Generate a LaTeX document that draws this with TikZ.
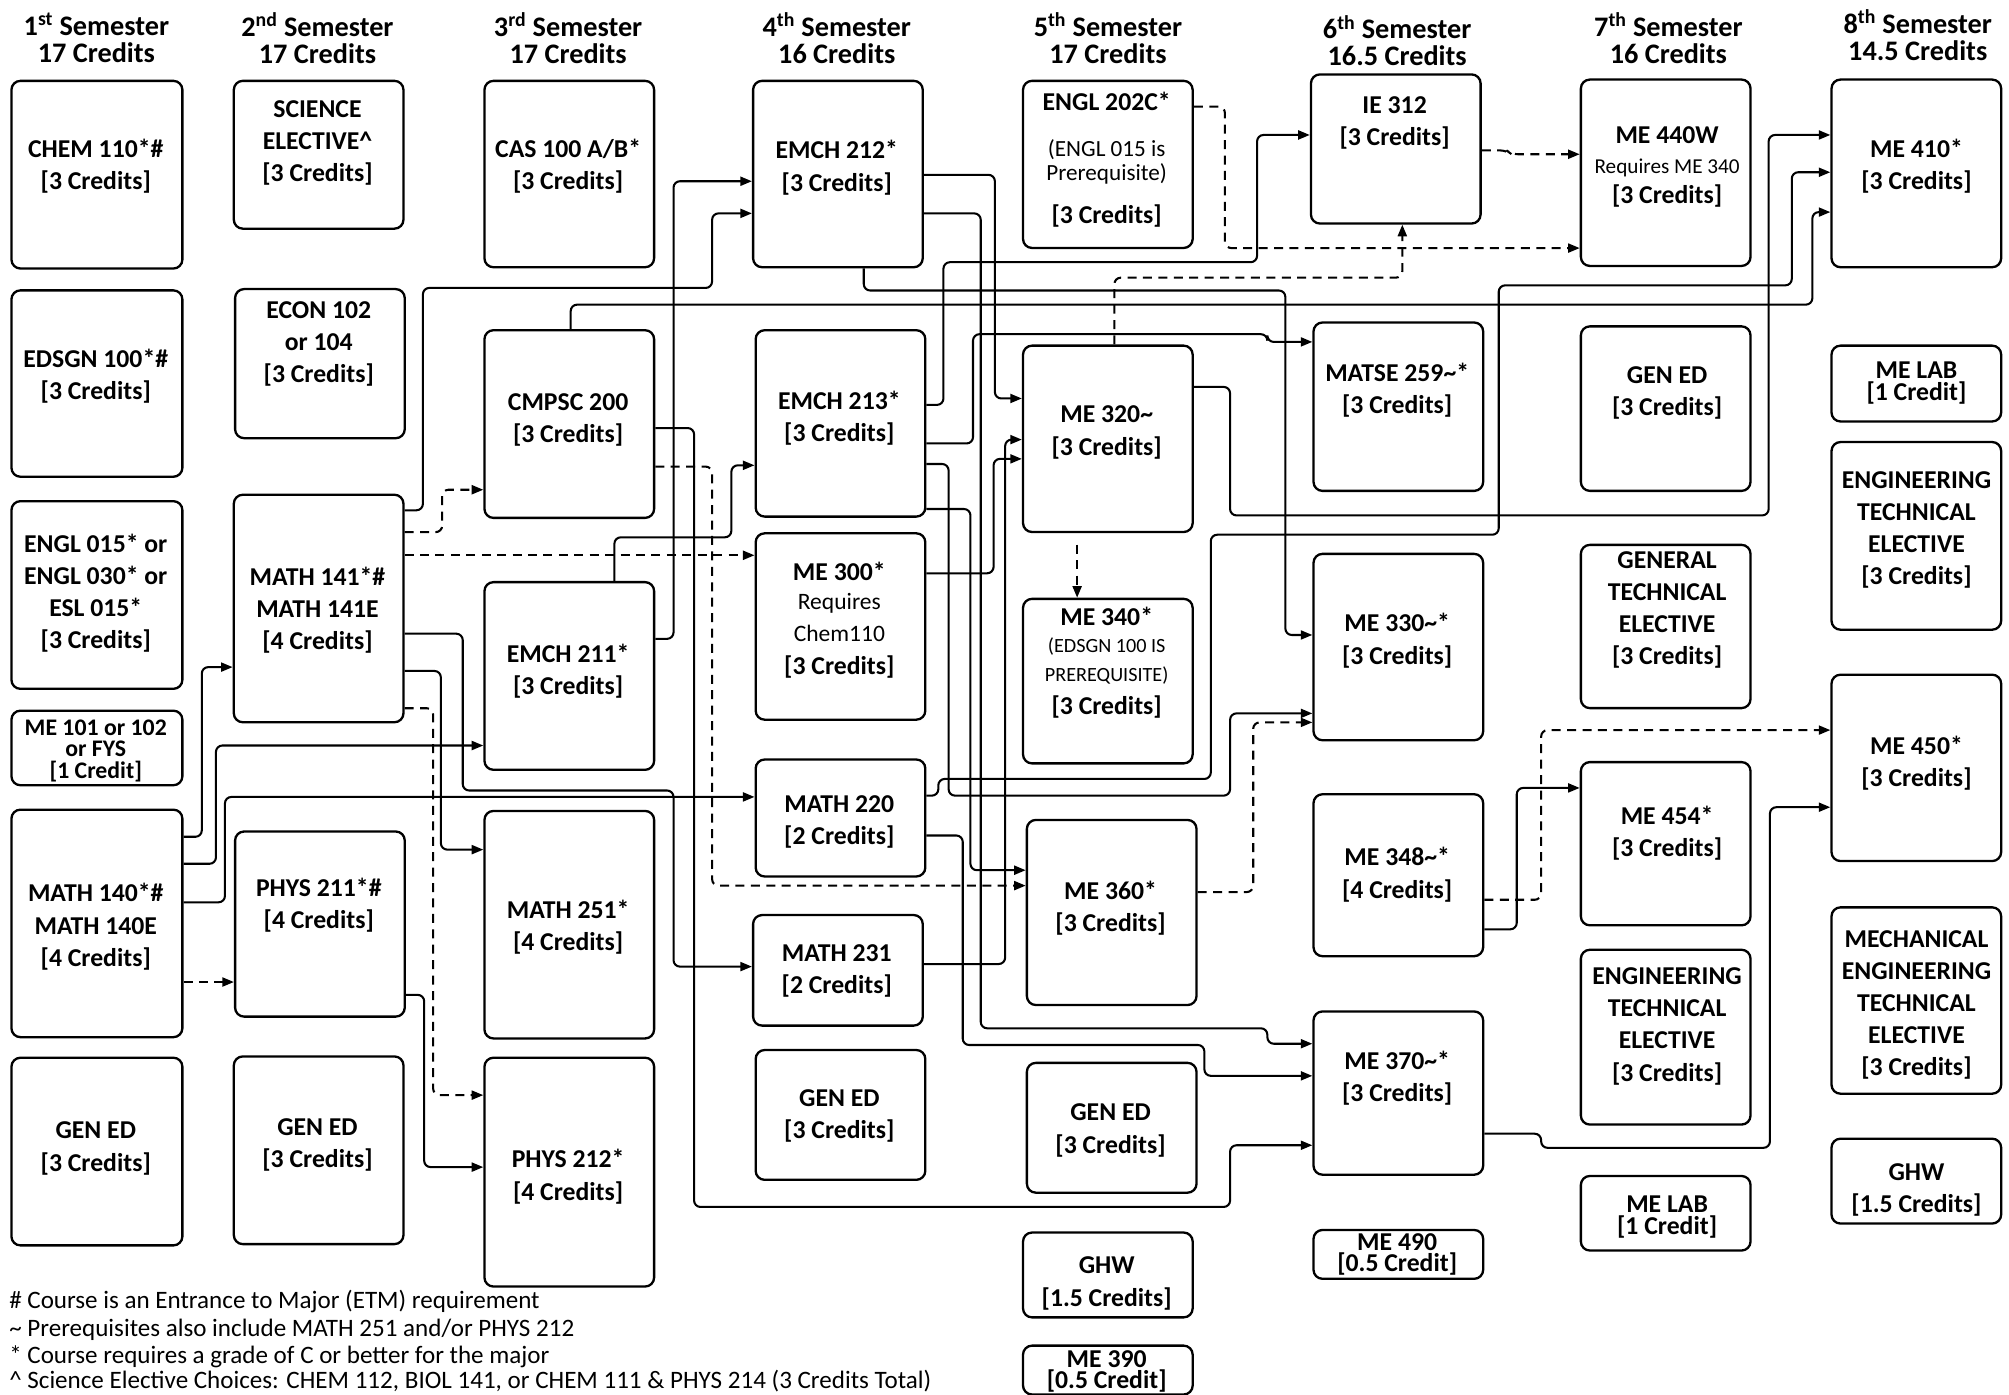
\documentclass[tikz,border=0pt]{standalone}
\usepackage{fontspec}
\setmainfont{Carlito}
\usetikzlibrary{arrows.meta}
\newcommand\mybox[5]{\node[box, anchor=north west, minimum width={(#4-#2)*1pt}, minimum height={(#5-#3)*1pt}] (#1) at (#2,#3) {};}
\tikzset{
  box/.style={draw, line width=1.8pt, rounded corners=7pt, inner sep=0pt},
  txt/.style={align=center, font=\fontsize{20}{25}\selectfont\bfseries, inner sep=0pt},
  tight/.style={align=center, font=\fontsize{20}{17}\selectfont\bfseries, inner sep=0pt},
  small/.style={align=center, font=\fontsize{18.5}{16.7}\selectfont\bfseries, inner sep=0pt},
  head/.style={align=center, font=\fontsize{22}{21}\selectfont\bfseries, inner sep=0pt},
  ln/.style={anchor=base, inner sep=0pt},
  legend/.style={anchor=base west, inner sep=0pt, font=\fontsize{19.5}{22}\selectfont},
  conn/.style={line width=1.6pt, rounded corners=5pt, -{Triangle[length=9pt,width=7pt]}},
  dconn/.style={conn, dash pattern=on 7pt off 5pt},
}
\begin{document}
\begin{tikzpicture}[x=1pt,y=-1pt]
\fill[white] (0,0) rectangle (1563,1085);
\useasboundingbox (0,0) rectangle (1563,1085);
% headings
\node[head] (h1) at (75,29.5) {1\textsuperscript{st} Semester\\17 Credits};
\node[head] (h2) at (247,29.5) {2\textsuperscript{nd} Semester\\17 Credits};
\node[head] (h3) at (442,29.5) {3\textsuperscript{rd} Semester\\17 Credits};
\node[head] (h4) at (651,29.5) {4\textsuperscript{th} Semester\\16 Credits};
\node[head] (h5) at (862,29.5) {5\textsuperscript{th} Semester\\17 Credits};
\node[head] (h6) at (1087,31.5) {6\textsuperscript{th} Semester\\16.5 Credits};
\node[head] (h7) at (1298,29.5) {7\textsuperscript{th} Semester\\16 Credits};
\node[head] (h8) at (1492,27.5) {8\textsuperscript{th} Semester\\14.5 Credits};
% column 1
\mybox{chem}{8}{62}{141}{208}
\mybox{edsgn}{8}{225}{141}{370}
\mybox{engl}{8}{389}{141}{535}
\mybox{meone}{8}{552}{141}{610}
\mybox{m140}{8}{629}{141}{806}
\mybox{genA}{8}{822}{141}{968}
\node[txt] (t-chem) at (74.5,129.5) {CHEM 110*\#\\{[3 Credits]}};
\node[txt] (t-edsgn) at (74.5,292.5) {EDSGN 100*\#\\{[3 Credits]}};
\node[txt] (t-engl) at (74.5,461.5) {ENGL 015* or\\ENGL 030* or\\ESL 015*\\{[3 Credits]}};
\node[small] (t-meone) at (74.5,584) {ME 101 or 102\\or FYS\\{[1 Credit]}};
\node[txt] (t-m140) at (74.5,721) {MATH 140*\#\\MATH 140E\\{[4 Credits]}};
\node[txt] (t-genA) at (74.5,893.5) {GEN ED\\{[3 Credits]}};
% column 2
\mybox{sci}{181}{62}{313}{177}
\mybox{econ}{182}{224}{314}{340}
\mybox{m141}{181}{384}{313}{561}
\mybox{phys211}{182}{646}{314}{790}
\mybox{genB}{181}{821}{313}{967}
\node[txt] (t-sci) at (247,111.5) {SCIENCE\\ELECTIVE\textasciicircum\\{[3 Credits]}};
\node[txt] (t-econ) at (248,267.5) {ECON 102\\or 104\\{[3 Credits]}};
\node[txt] (t-m141) at (247,475) {MATH 141*\#\\MATH 141E\\{[4 Credits]}};
\node[txt] (t-phys211) at (248,704.5) {PHYS 211*\#\\{[4 Credits]}};
\node[txt] (t-genB) at (247,891) {GEN ED\\{[3 Credits]}};
% column 3
\mybox{cas}{376}{62}{508}{207}
\mybox{cmpsc}{376}{256}{508}{402}
\mybox{emch211}{376}{452}{508}{598}
\mybox{m251}{376}{630}{508}{807}
\mybox{phys212}{376}{822}{508}{1000}
\node[txt] (t-cas) at (442,129.5) {CAS 100 A/B*\\{[3 Credits]}};
\node[txt] (t-cmpsc) at (442,326.5) {CMPSC 200\\{[3 Credits]}};
\node[txt] (t-emch211) at (442,522.5) {EMCH 211*\\{[3 Credits]}};
\node[txt] (t-m251) at (442,721.5) {MATH 251*\\{[4 Credits]}};
\node[txt] (t-phys212) at (442,915.5) {PHYS 212*\\{[4 Credits]}};
% column 4
\mybox{emch212}{585}{62}{717}{207}
\mybox{emch213}{587}{256}{719}{401}
\mybox{me300}{587}{414}{719}{559}
\mybox{m220}{587}{590}{719}{681}
\mybox{m231}{585}{711}{717}{797}
\mybox{genC}{587}{816}{719}{917}
\node[txt] (t-emch212) at (651,130.5) {EMCH 212*\\{[3 Credits]}};
\node[txt] (t-emch213) at (653,325.5) {EMCH 213*\\{[3 Credits]}};
\node[ln, font=\fontsize{20}{25}\selectfont\bfseries] (t-me300a) at (653,451.5) {ME 300*};
\node[ln, font=\fontsize{18.3}{20}\selectfont] (t-me300b) at (653,474.5) {Requires};
\node[ln, font=\fontsize{18.3}{20}\selectfont] (t-me300c) at (653,499) {Chem110};
\node[ln, font=\fontsize{20}{25}\selectfont\bfseries] (t-me300d) at (653,524.5) {[3 Credits]};
\node[txt] (t-m220) at (653,639.5) {MATH 220\\{[2 Credits]}};
\node[txt] (t-m231) at (651,755.5) {MATH 231\\{[2 Credits]}};
\node[txt] (t-genC) at (653,868.5) {GEN ED\\{[3 Credits]}};
% column 5
\mybox{engl202}{795}{62}{927}{192}
\mybox{me320}{795}{268}{927}{413}
\mybox{me340}{795}{465}{927}{593}
\mybox{me360}{798}{637}{930}{781}
\mybox{genD}{798}{826}{930}{927}
\mybox{ghwA}{795}{958}{927}{1024}
\mybox{me390}{795}{1046}{927}{1084}
\node[ln, font=\fontsize{20}{25}\selectfont\bfseries] (t-e202a) at (861,86) {ENGL 202C*};
\node[ln, font=\fontsize{18}{20}\selectfont] (t-e202b) at (861,121.5) {(ENGL 015 is};
\node[ln, font=\fontsize{18}{20}\selectfont] (t-e202c) at (861,140.5) {Prerequisite)};
\node[ln, font=\fontsize{20}{25}\selectfont\bfseries] (t-e202d) at (861,173.5) {[3 Credits]};
\node[txt] (t-me320) at (861,336.5) {ME 320\textasciitilde\\{[3 Credits]}};
\node[ln, font=\fontsize{20}{25}\selectfont\bfseries] (t-me340a) at (861,486.5) {ME 340*};
\node[ln, font=\fontsize{15.7}{18}\selectfont] (t-me340b) at (861,508) {(EDSGN 100 IS};
\node[ln, font=\fontsize{15.7}{18}\selectfont] (t-me340c) at (861,530.5) {PREREQUISITE)};
\node[ln, font=\fontsize{20}{25}\selectfont\bfseries] (t-me340d) at (861,556) {[3 Credits]};
\node[txt] (t-me360) at (864,706.5) {ME 360*\\{[3 Credits]}};
\node[txt] (t-genD) at (864,879.5) {GEN ED\\{[3 Credits]}};
\node[txt] (t-ghwA) at (861,998.5) {GHW\\{[1.5 Credits]}};
\node[tight] (t-me390) at (861,1067) {ME 390\\{[0.5 Credit]}};
% column 6
\mybox{ie312}{1019}{57}{1151}{173}
\mybox{matse}{1021}{250}{1153}{381}
\mybox{me330}{1021}{430}{1153}{575}
\mybox{me348}{1021}{617}{1153}{743}
\mybox{me370}{1021}{786}{1153}{913}
\mybox{me490}{1021}{956}{1153}{994}
\node[txt] (t-ie312) at (1085,95.5) {IE 312\\{[3 Credits]}};
\node[txt] (t-matse) at (1087,303.5) {MATSE 259\textasciitilde*\\{[3 Credits]}};
\node[txt] (t-me330) at (1087,498.5) {ME 330\textasciitilde*\\{[3 Credits]}};
\node[txt] (t-me348) at (1087,680.5) {ME 348\textasciitilde*\\{[4 Credits]}};
\node[txt] (t-me370) at (1087,838.5) {ME 370\textasciitilde*\\{[3 Credits]}};
\node[tight] (t-me490) at (1087,976) {ME 490\\{[0.5 Credit]}};
% column 7
\mybox{me440}{1229}{61}{1361}{206}
\mybox{genE}{1229}{253}{1361}{381}
\mybox{gte}{1229}{423}{1361}{550}
\mybox{me454}{1229}{592}{1361}{719}
\mybox{eteA}{1229}{738}{1361}{874}
\mybox{labA}{1229}{914}{1361}{972}
\node[ln, font=\fontsize{20}{25}\selectfont\bfseries] (t-me440a) at (1297,112) {ME 440W};
\node[ln, font=\fontsize{16.5}{18}\selectfont] (t-me440b) at (1297,135) {Requires ME 340};
\node[ln, font=\fontsize{20}{25}\selectfont\bfseries] (t-me440c) at (1297,158) {[3 Credits]};
\node[txt] (t-genE) at (1297,305.5) {GEN ED\\{[3 Credits]}};
\node[txt] (t-gte) at (1297,474.5) {GENERAL\\TECHNICAL\\ELECTIVE\\{[3 Credits]}};
\node[txt] (t-me454) at (1297,648.5) {ME 454*\\{[3 Credits]}};
\node[txt] (t-eteA) at (1297,798.5) {ENGINEERING\\TECHNICAL\\ELECTIVE\\{[3 Credits]}};
\node[tight] (t-labA) at (1297,947) {ME LAB\\{[1 Credit]}};
% column 8
\mybox{me410}{1424}{61}{1556}{207}
\mybox{labB}{1424}{268}{1556}{327}
\mybox{eteB}{1424}{343}{1556}{489}
\mybox{me450}{1424}{524}{1556}{669}
\mybox{mete}{1424}{705}{1556}{850}
\mybox{ghwB}{1424}{885}{1556}{951}
\node[txt] (t-me410) at (1491,129.5) {ME 410*\\{[3 Credits]}};
\node[tight] (t-labB) at (1491,298) {ME LAB\\{[1 Credit]}};
\node[txt] (t-eteB) at (1491,412.5) {ENGINEERING\\TECHNICAL\\ELECTIVE\\{[3 Credits]}};
\node[txt] (t-me450) at (1491,593.5) {ME 450*\\{[3 Credits]}};
\node[txt] (t-mete) at (1491,782) {MECHANICAL\\ENGINEERING\\TECHNICAL\\ELECTIVE\\{[3 Credits]}};
\node[txt] (t-ghwB) at (1491,925.5) {GHW\\{[1.5 Credits]}};
% legend
\node[legend] (lg1) at (7,1018) {\# Course is an Entrance to Major (ETM) requirement};
\node[legend] (lg2) at (7,1039.5) {\textasciitilde{} Prerequisites also include MATH 251 and/or PHYS 212};
\node[legend] (lg3) at (7,1060.5) {* Course requires a grade of C or better for the major};
\node[legend] (lg4) at (7,1080) {\textasciicircum{} Science Elective Choices: CHEM 112, BIOL 141, or CHEM 111 \& PHYS 214 (3 Credits Total)};
% connectors
\draw[conn] (m140.east |- 0,651) -- (157,651) -- (157,519) -- (m141.west |- 0,519);
\draw[conn] (m140.east |- 0,672) -- (168,672) -- (168,580) -- (emch211.west |- 0,580);
\draw[conn] (m140.east |- 0,702) -- (175,702) -- (175,620) -- (m220.west |- 0,620);
\draw[dconn] (m140.east |- 0,764) -- (phys211.west |- 0,764);
\draw[dconn] (m141.east |- 0,414) -- (344,414) -- (344,381) -- (cmpsc.west |- 0,381);
\draw[conn] (m141.east |- 0,397) -- (329,397) -- (329,224) -- (554,224) -- (554,166) -- (emch212.west |- 0,166);
\draw[dconn] (m141.east |- 0,432) -- (me300.west |- 0,432);
\draw[conn] (m141.east |- 0,493) -- (360,493) -- (360,615) -- (524,615) -- (524,752) -- (m231.west |- 0,752);
\draw[conn] (m141.east |- 0,522) -- (343,522) -- (343,661) -- (m251.west |- 0,661);
\draw[dconn] (m141.east |- 0,551) -- (337,551) -- (337,852) -- (phys212.west |- 0,852);
\draw[conn] (phys211.east |- 0,774) -- (330,774) -- (330,908) -- (phys212.west |- 0,908);
\draw[conn] (emch211.east |- 0,497) -- (524,497) -- (524,141) -- (emch212.west |- 0,141);
\draw[conn] (emch211.north -| 478,0) -- (478,418) -- (569,418) -- (569,362) -- (emch213.west |- 0,362);
\draw[conn] (cmpsc.east |- 0,333) -- (540,333) -- (540,939) -- (957,939) -- (957,891) -- (me370.west |- 0,891);
\draw[dconn] (cmpsc.east |- 0,363) -- (554,363) -- (554,689) -- (me360.west |- 0,689);
\draw[conn] (cmpsc.north -| 444,0) -- (444,237) -- (1410,237) -- (1410,165) -- (me410.west |- 0,165);
\draw[conn] (emch212.east |- 0,136) -- (774,136) -- (774,310) -- (me320.west |- 0,310);
\draw[conn] (emch212.east |- 0,166) -- (763,166) -- (763,800) -- (986,800) -- (986,812) -- (me370.west |- 0,812);
\draw[conn] (emch212.south -| 672,0) -- (672,226) -- (1000,226) -- (1000,494) -- (me330.west |- 0,494);
\draw[conn] (emch213.east |- 0,315) -- (734,315) -- (734,204) -- (978,204) -- (978,105) -- (ie312.west |- 0,105);
\draw[conn] (emch213.east |- 0,345) -- (757,345) -- (757,260) -- (986,260) -- (986,266) -- (matse.west |- 0,266);
\draw[conn] (emch213.east |- 0,361) -- (738,361) -- (738,619) -- (957,619) -- (957,555) -- (me330.west |- 0,555);
\draw[conn] (emch213.east |- 0,396) -- (755,396) -- (755,677) -- (me360.west |- 0,677);
\draw[conn] (me300.east |- 0,446) -- (773,446) -- (773,357) -- (me320.west |- 0,357);
\draw[conn] (m220.east |- 0,619) -- (730,619) -- (730,606) -- (942,606) -- (942,416) -- (1166,416) -- (1166,222) -- (1394,222) -- (1394,134) -- (me410.west |- 0,134);
\draw[conn] (m220.east |- 0,650) -- (749,650) -- (749,813) -- (937,813) -- (937,837) -- (me370.west |- 0,837);
\draw[conn] (m231.east |- 0,750) -- (782,750) -- (782,342) -- (me320.west |- 0,342);
\draw[conn] (me320.east |- 0,301) -- (957,301) -- (957,401) -- (1376,401) -- (1376,105) -- (me410.west |- 0,105);
\draw[dconn] (me320.north -| 867,0) -- (867,216) -- (1091,216) -- (ie312.south -| 1091,0);
\draw[dconn, shorten <=9pt] (me320.south -| 838,0) -- (me340.north -| 838,0);
\draw[dconn] (engl202.east |- 0,83) -- (953,83) -- (953,193) -- (me440.west |- 0,193);
\draw[dconn] (ie312.east |- 0,117) -- (1172,117) -- (1176,120) -- (me440.west |- 0,120);
\draw[dconn] (me360.east |- 0,694) -- (975,694) -- (975,562) -- (me330.west |- 0,562);
\draw[conn] (me348.east |- 0,723) -- (1180,723) -- (1180,613) -- (me454.west |- 0,613);
\draw[dconn] (me348.east |- 0,700) -- (1199,700) -- (1199,568) -- (me450.west |- 0,568);
\draw[conn] (me370.east |- 0,882) -- (1199,882) -- (1199,893) -- (1377,893) -- (1377,628) -- (me450.west |- 0,628);
\end{tikzpicture}
\end{document}
